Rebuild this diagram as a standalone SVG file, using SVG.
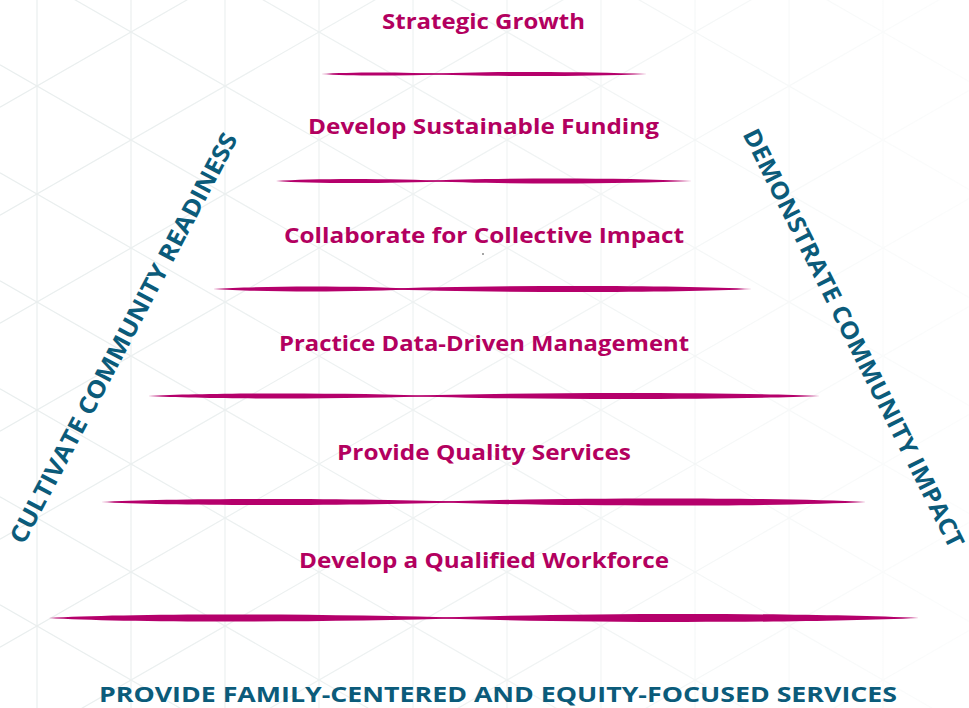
<svg xmlns="http://www.w3.org/2000/svg" width="969" height="708" viewBox="0 0 969 708">
<defs>
<style>
.grid{stroke:#E9EEEE;stroke-width:1.2;fill:none}
.lvl{font-family:"Open Sans","Liberation Sans",sans-serif;font-weight:700;font-size:22px;fill:#B3005F;text-anchor:middle}
.side{font-family:"Open Sans","Liberation Sans",sans-serif;font-weight:700;font-size:24px;fill:#0B5B7A;text-anchor:middle}
.base{font-family:"Open Sans","Liberation Sans",sans-serif;font-weight:700;font-size:22px;fill:#0B5B7A;text-anchor:middle}
.brush{fill:#B5006B}
</style>
<linearGradient id="fadeG" x1="0" y1="0" x2="1" y2="0">
<stop offset="0" stop-color="#fff" stop-opacity="1"/>
<stop offset="0.5" stop-color="#fff" stop-opacity="0.75"/>
<stop offset="1" stop-color="#fff" stop-opacity="0.15"/>
</linearGradient>
<mask id="fade" maskUnits="userSpaceOnUse" x="0" y="0" width="969" height="708">
<rect x="0" y="0" width="969" height="708" fill="url(#fadeG)"/>
</mask>
</defs>
<rect x="0" y="0" width="969" height="708" fill="#FFFFFF"/>
<g id="background-grid" class="grid" mask="url(#fade)">
<path d="M37 0V708M131 0V708M225 0V708M319 0V708M413 0V708M507 0V708M601 0V708M695 0V708M789 0V708M883 0V708"/>
<path d="M0 -475.3L969 81.4M0 -367.3L969 189.4M0 -259.3L969 297.4M0 -151.3L969 405.4M0 -43.3L969 513.4M0 64.7L969 621.4M0 172.7L969 729.4M0 280.7L969 837.4M0 388.7L969 945.4M0 496.7L969 1053.4M0 604.7L969 1161.4"/>
<path d="M0 107.3L969 -449.4M0 215.3L969 -341.4M0 323.3L969 -233.4M0 431.3L969 -125.4M0 539.3L969 -17.4M0 647.3L969 90.6M0 755.3L969 198.6M0 863.3L969 306.6M0 971.3L969 414.6M0 1079.3L969 522.6M0 1187.3L969 630.6M0 1295.3L969 738.6"/>
</g>
<g id="connectors">
<g id="divider-1" class="brush">
<path d="M321 74C350 72 400 72 450 74C400 76 350 76 321 74Z"/>
<path d="M420 74C490 71.3 580 71.3 647 74C580 76.7 490 76.7 420 74Z"/>
</g>
<g id="divider-2" class="brush">
<path d="M276 181C310 178.3 390 178.3 450 181C390 183.7 310 183.7 276 181Z"/>
<path d="M420 181C500 177.7 620 177.7 692 181C620 184.3 500 184.3 420 181Z"/>
</g>
<g id="divider-3" class="brush">
<path d="M213 289C260 285.7 360 285.7 420 289C360 292.3 260 292.3 213 289Z"/>
<path d="M380 289C480 285 680 285 752 289C680 293 480 293 380 289Z"/>
</g>
<g id="divider-4" class="brush">
<path d="M148 396C210 392.7 350 392.7 440 396C350 399.3 210 399.3 148 396Z"/>
<path d="M400 396C520 392 730 392 820 396C730 400 520 400 400 396Z"/>
</g>
<g id="divider-5" class="brush">
<path d="M101 502C170 498 360 498 470 502C360 506 170 506 101 502Z"/>
<path d="M430 502C560 497.3 780 497.3 866 502C780 506.7 560 506.7 430 502Z"/>
</g>
<g id="divider-6" class="brush">
<path d="M49 618C120 613.3 320 613.3 470 618C320 622.7 120 622.7 49 618Z"/>
<path d="M430 618C580 612.7 800 612.7 919 618C800 623.3 580 623.3 430 618Z"/>
</g>
</g>
<g id="level-strategic-growth"><text class="lvl" x="483.5" y="29" textLength="203" lengthAdjust="spacingAndGlyphs">Strategic Growth</text></g>
<g id="level-funding"><text class="lvl" x="483.5" y="134" textLength="351" lengthAdjust="spacingAndGlyphs">Develop Sustainable Funding</text></g>
<g id="level-collaborate"><text class="lvl" x="484" y="243" textLength="400" lengthAdjust="spacingAndGlyphs">Collaborate for Collective Impact</text></g>
<circle cx="483" cy="254" r="0.8" fill="#333"/>
<g id="level-data"><text class="lvl" x="484" y="351" textLength="410" lengthAdjust="spacingAndGlyphs">Practice Data-Driven Management</text></g>
<g id="level-services"><text class="lvl" x="484" y="460" textLength="294" lengthAdjust="spacingAndGlyphs">Provide Quality Services</text></g>
<g id="level-workforce"><text class="lvl" x="484" y="568" textLength="370" lengthAdjust="spacingAndGlyphs">Develop a Qualified Workforce</text></g>
<g id="side-left"><text class="side" transform="translate(131,342) rotate(-62.2)" x="0" y="0" textLength="460" lengthAdjust="spacingAndGlyphs">CULTIVATE COMMUNITY READINESS</text></g>
<g id="side-right"><text class="side" transform="translate(846,342) rotate(63.5)" x="0" y="0" textLength="465" lengthAdjust="spacingAndGlyphs">DEMONSTRATE COMMUNITY IMPACT</text></g>
<g id="base"><text class="base" x="498" y="702" textLength="798" lengthAdjust="spacingAndGlyphs">PROVIDE FAMILY-CENTERED AND EQUITY-FOCUSED SERVICES</text></g>
</svg>
